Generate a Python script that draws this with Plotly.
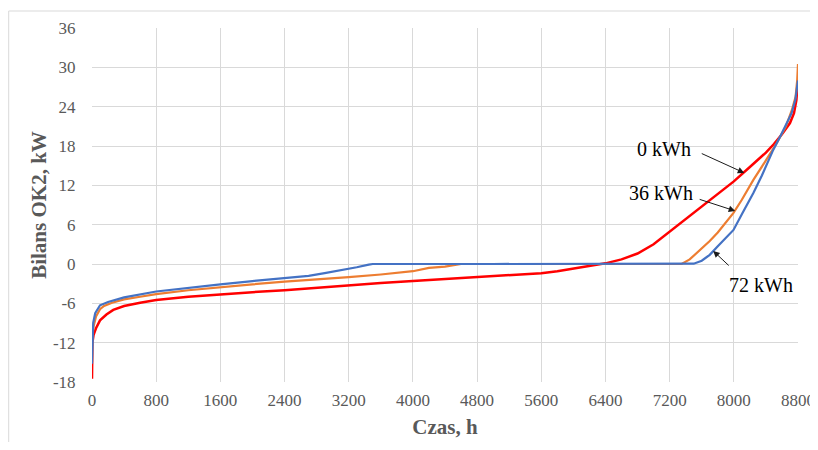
import plotly.graph_objects as go

# ---- data (hours, kW) ----
red_h = [0, 5, 20, 50, 100, 180, 265, 400, 600, 800, 1200, 1600, 2000, 2400, 2800, 3200,
         3600, 4000, 4400, 4800, 5200, 5600, 5800, 6000, 6200, 6400, 6600, 6800, 7000, 7200,
         7400, 7600, 7800, 8000, 8200, 8400, 8500, 8600, 8700, 8750, 8780, 8800]
red_v = [-17.5, -12.0, -10.8, -9.8, -8.6, -7.7, -7.0, -6.4, -5.9, -5.5, -5.0, -4.6, -4.3, -4.0,
         -3.6, -3.2, -2.9, -2.6, -2.3, -2.0, -1.7, -1.4, -1.1, -0.7, -0.3, 0.1, 0.7, 1.6, 3.0,
         4.9, 6.8, 8.8, 10.6, 12.6, 14.8, 17.0, 18.3, 19.8, 21.5, 23.0, 25.0, 28.0]

orange_h = [0, 5, 20, 50, 100, 150, 250, 400, 600, 800, 1200, 1600, 2000, 2400, 2800, 3200,
            3600, 4000, 4200, 4400, 4600, 5000, 6000, 7000, 7350, 7450, 7581, 7700, 7800,
            7996, 8100, 8242, 8400, 8537, 8650, 8724, 8770, 8790, 8800]
orange_v = [-15.0, -11.0, -9.5, -8.0, -6.9, -6.4, -5.9, -5.4, -5.0, -4.6, -4.0, -3.5, -3.1,
            -2.7, -2.4, -2.0, -1.6, -1.1, -0.6, -0.4, 0.0, 0.0, 0.0, 0.0, 0.0, 0.7, 2.1, 3.5,
            4.8, 7.8, 9.8, 12.8, 15.8, 18.5, 21.0, 23.5, 25.5, 28.0, 30.5]

blue_h = [0, 5, 15, 40, 100, 200, 400, 800, 1200, 1600, 2000, 2400, 2700, 2900, 3100, 3300,
          3450, 3500, 5000, 7000, 7500, 7600, 7700, 7800, 7900, 7996, 8100, 8242, 8350, 8491,
          8580, 8662, 8720, 8766, 8790, 8800]
blue_v = [-15.2, -11.0, -9.0, -7.5, -6.3, -5.8, -5.1, -4.2, -3.6, -3.1, -2.6, -2.2, -1.8,
          -1.4, -1.0, -0.5, -0.1, 0.0, 0.0, 0.0, 0.05, 0.5, 1.4, 2.7, 3.9, 5.2, 7.6, 10.8, 13.5,
          17.4, 19.5, 21.5, 23.0, 25.0, 27.0, 28.0]

x_ticks = list(range(0, 8801, 800))
y_ticks = list(range(-18, 37, 6))

labels = ["0 kWh", "36 kWh", "72 kWh"]
label_pos = [(7132, 17.6), (7095, 10.8), (8342, -3.2)]
arrow_head = [(8130, 13.9), (8017, 8.1), (7743, 2.0)]
arrow_tail = [(-44, -20), (-37, -12), (17, 16)]

fig = go.Figure()
fig.add_trace(go.Scatter(x=red_h, y=red_v, mode="lines", name="0 kWh",
                         line=dict(color="#FF0000", width=2.5)))
fig.add_trace(go.Scatter(x=orange_h, y=orange_v, mode="lines", name="36 kWh",
                         line=dict(color="#ED7D31", width=2.2)))
fig.add_trace(go.Scatter(x=blue_h, y=blue_v, mode="lines", name="72 kWh",
                         line=dict(color="#4472C4", width=2.2)))

font_family = "Liberation Serif, Times New Roman, serif"
annotations = []
for t, (lx, ly) in zip(labels, label_pos):
    annotations.append(dict(x=lx, y=ly, xref="x", yref="y", text=t, showarrow=False,
                            font=dict(family=font_family, size=20, color="#000000")))
for (hx, hy), (ax, ay) in zip(arrow_head, arrow_tail):
    annotations.append(dict(x=hx, y=hy, xref="x", yref="y", text="", showarrow=True,
                            ax=ax, ay=ay, arrowhead=2, arrowsize=1.3, arrowwidth=1,
                            arrowcolor="#1a1a1a", standoff=0, startstandoff=0))

border = dict(color="#D9D9D9", width=1)
# page body has an 8px margin, so the figure is placed at (8,8)
fig.update_layout(
    width=810, height=434,
    margin=dict(l=84, r=20, t=20, b=60, autoexpand=False),
    paper_bgcolor="white", plot_bgcolor="white",
    showlegend=False,
    font=dict(family=font_family, size=17, color="#595959"),
    annotations=annotations,
    shapes=[
        dict(type="line", xref="paper", yref="paper", x0=-0.118, y0=-0.25,
             x1=-0.118, y1=1.048, line=border, layer="below"),
        dict(type="line", xref="paper", yref="paper", x0=-0.118, y0=1.048,
             x1=1.1, y1=1.048, line=border, layer="below"),
    ],
)
fig.update_xaxes(range=[0, 8800], tickvals=x_ticks, ticktext=[str(v) for v in x_ticks],
                 showgrid=True, gridcolor="#D9D9D9", gridwidth=1, zeroline=False,
                 showline=False, ticks="outside", ticklen=3, tickcolor="rgba(0,0,0,0)",
                 automargin=False,
                 tickfont=dict(family=font_family, size=17, color="#595959"),
                 title=dict(text="<b>Czas, h</b>", standoff=9,
                            font=dict(family=font_family, size=21, color="#595959")))
fig.update_yaxes(range=[-18, 36], tickvals=y_ticks, ticktext=[str(v) for v in y_ticks],
                 showgrid=True, gridcolor="#D9D9D9", gridwidth=1, zeroline=False,
                 showline=False, ticks="outside", ticklen=12, tickcolor="rgba(0,0,0,0)",
                 automargin=False,
                 tickfont=dict(family=font_family, size=17, color="#595959"),
                 title=dict(text="<b>Bilans OK2, kW</b>", standoff=0,
                            font=dict(family=font_family, size=21, color="#595959")))

fig.write_html("out.html")
